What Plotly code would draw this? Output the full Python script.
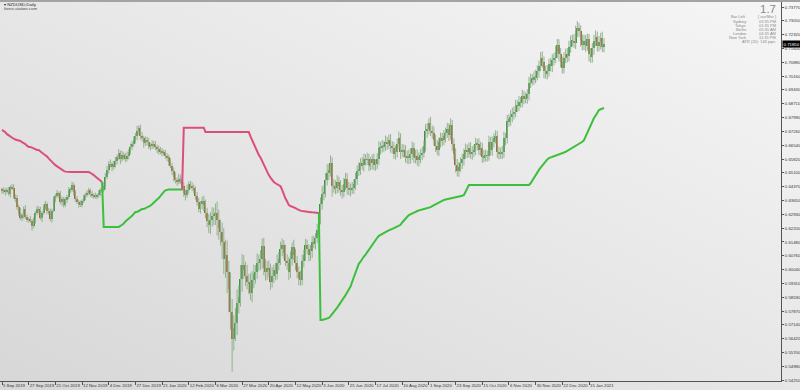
import base64
import plotly.graph_objects as go

# ---------------- data ----------------
open0 = 0.6420
closes = [
    0.6415, 0.6410, 0.6418, 0.6412, 0.6398, 0.6436, 0.6430, 0.6385, 0.6378, 0.6330, 0.6302, 0.6272, 0.6290, 0.6322, 0.6278, 0.6265, 0.6268,
    0.6258, 0.6232, 0.6262, 0.6300, 0.6322, 0.6312, 0.6272, 0.6302, 0.6330, 0.6345, 0.6312, 0.6300, 0.6268, 0.6312, 0.6372, 0.6388,
    0.6402, 0.6395, 0.6355, 0.6372, 0.6340, 0.6366, 0.6382, 0.6420, 0.6422, 0.6445, 0.6410, 0.6372, 0.6356, 0.6345, 0.6342, 0.6362,
    0.6382, 0.6395, 0.6402, 0.6418, 0.6400, 0.6390, 0.6388, 0.6385, 0.6392, 0.6405, 0.6418, 0.6422, 0.6440, 0.6490, 0.6525, 0.6555,
    0.6555, 0.6540, 0.6555, 0.6572, 0.6590, 0.6612, 0.6580, 0.6605, 0.6595, 0.6580, 0.6600, 0.6620, 0.6645, 0.6660, 0.6680, 0.6700, 0.6730, 0.6742,
    0.6702, 0.6690, 0.6665, 0.6682, 0.6670, 0.6652, 0.6648, 0.6662, 0.6655, 0.6645, 0.6635, 0.6620, 0.6625, 0.6615, 0.6612, 0.6600, 0.6590, 0.6565, 0.6548, 0.6520, 0.6490, 0.6470,
    0.6462, 0.6480, 0.6470, 0.6440, 0.6405, 0.6395, 0.6420, 0.6450, 0.6440, 0.6432, 0.6425, 0.6390, 0.6355, 0.6322, 0.6345, 0.6365, 0.6340, 0.6300, 0.6260, 0.6235,
    0.6265, 0.6285, 0.6292, 0.6300, 0.6262, 0.6220, 0.6200, 0.6150, 0.6060, 0.6080, 0.5990, 0.5900, 0.5780, 0.5640, 0.5700, 0.5722, 0.5830, 0.5860, 0.5952, 0.6030, 0.6000, 0.5968,
    0.5940, 0.5930, 0.5880, 0.5950, 0.5980, 0.5992, 0.6040, 0.6042, 0.6060, 0.6128, 0.6010, 0.5990, 0.6012, 0.6000, 0.5940, 0.5972, 0.6000, 0.5980, 0.6040, 0.6060, 0.6110, 0.6130,
    0.6090, 0.6050, 0.6040, 0.5990, 0.6060, 0.6120, 0.6080, 0.6040, 0.5990, 0.5960, 0.5950, 0.6050, 0.6080, 0.6130, 0.6110, 0.6080, 0.6100, 0.6150, 0.6140, 0.6170, 0.6210,
    0.6270, 0.6345, 0.6400, 0.6412, 0.6470, 0.6510, 0.6522, 0.6560, 0.6440, 0.6440, 0.6430, 0.6462, 0.6440, 0.6420, 0.6410, 0.6450, 0.6480, 0.6430, 0.6420, 0.6425, 0.6430, 0.6450,
    0.6480, 0.6520, 0.6530, 0.6560, 0.6550, 0.6580, 0.6578, 0.6582, 0.6550, 0.6560, 0.6580, 0.6552, 0.6555, 0.6580, 0.6640, 0.6642, 0.6650, 0.6650, 0.6670, 0.6662, 0.6680, 0.6650, 0.6640,
    0.6610, 0.6620, 0.6660, 0.6690, 0.6620, 0.6630, 0.6620, 0.6590, 0.6600, 0.6585, 0.6610, 0.6640, 0.6590, 0.6600, 0.6575, 0.6590, 0.6605, 0.6615, 0.6650, 0.6730, 0.6740,
    0.6770, 0.6730, 0.6720, 0.6680, 0.6650, 0.6630, 0.6670, 0.6690, 0.6680, 0.6700, 0.6720, 0.6740, 0.6710, 0.6760, 0.6660, 0.6610, 0.6550, 0.6520, 0.6540, 0.6560, 0.6580, 0.6610,
    0.6630, 0.6620, 0.6640, 0.6610, 0.6620, 0.6630, 0.6660, 0.6660, 0.6630, 0.6640, 0.6590, 0.6600, 0.6600, 0.6600, 0.6670, 0.6630, 0.6670, 0.6690, 0.6700, 0.6620, 0.6610, 0.6610,
    0.6620, 0.6690, 0.6690, 0.6780, 0.6790, 0.6800, 0.6820, 0.6830, 0.6860, 0.6860, 0.6880, 0.6880, 0.6910, 0.6900, 0.6900, 0.6920, 0.6980, 0.7000, 0.7000, 0.7010, 0.7020,
    0.7040, 0.7070, 0.7110, 0.7090, 0.7040, 0.7030, 0.7040, 0.7080, 0.7070, 0.7100, 0.7110, 0.7140, 0.7180, 0.7130, 0.7090, 0.7060, 0.7110, 0.7130, 0.7120, 0.7170, 0.7200, 0.7200,
    0.7190, 0.7250, 0.7265, 0.7250, 0.7205, 0.7180, 0.7200, 0.7175, 0.7210, 0.7130, 0.7115, 0.7160, 0.7200, 0.7220, 0.7175, 0.7195, 0.7215, 0.7170, 0.7185,
]

upper_wick_pips = [
    12, 18, 10, 15, 22, 9, 14, 20, 11, 16, 13, 25, 10, 12, 19, 14, 8, 17, 11, 15,
    10, 16, 12, 20, 9, 14, 18, 11, 13, 22, 10, 15, 12, 17, 9, 20, 14, 11, 16, 13,
    15, 11, 18, 13, 10, 16, 12, 20, 9, 14, 11, 17, 13, 10, 15, 12, 18, 9, 14, 11,
    14, 20, 18, 22, 16, 25, 12, 18, 20, 15, 22, 14, 19, 12, 17, 21, 13, 18, 16, 20,
    18, 25, 15, 20, 22, 14, 18, 16, 24, 13, 19, 15, 21, 12, 17, 20, 14, 16, 18, 13,
    15, 20, 14, 18, 22, 16, 25, 19, 14, 20, 17, 28, 15, 18, 21, 16, 14, 19, 23, 17,
    20, 25, 30, 28, 35, 40, 45, 35, 50, 60, 55, 45, 50, 70, 80, 75, 60, 90, 70, 65,
    80, 70, 60, 75, 55, 50, 45, 60, 40, 55, 45, 50, 35, 48, 40, 45, 38, 42, 50, 36,
    40, 35, 45, 30, 38, 42, 33, 40, 36, 28, 44, 35, 30, 38, 26, 40, 32, 35, 30, 37,
    32, 28, 35, 30, 26, 33, 29, 31, 25, 34, 30, 36, 40, 32, 38, 45, 35, 42, 30, 36,
    30, 35, 28, 32, 26, 34, 30, 27, 33, 29, 31, 25, 30, 28, 35, 26, 32, 30, 27, 33,
    28, 32, 26, 30, 25, 33, 35, 29, 31, 27, 34, 28, 30, 32, 26, 30, 33, 28, 35, 27,
    30, 28, 34, 26, 31, 29, 33, 27, 30, 32, 26, 29, 31, 28, 35, 30, 25, 33, 28, 31,
    29, 32, 26, 30, 28, 33, 27, 31, 29, 34, 26, 30, 28, 32, 27, 31, 29, 26, 33, 28,
    27, 31, 29, 26, 33, 28, 30, 32, 27, 29, 31, 26, 34, 28, 30, 27, 32, 29, 26, 31,
    30, 35, 28, 32, 26, 38, 30, 27, 33, 29, 31, 26, 34, 28, 30, 27, 32, 29, 26, 31,
    29, 32, 27, 31, 35, 28, 30, 33, 26, 31, 29, 27, 34, 30, 28, 32, 26, 31, 29, 33,
    30, 28, 32, 35, 30, 38, 29, 31, 27, 33, 30, 28, 26, 32, 29, 31, 35, 28, 30, 27, 33, 29,
]

lower_wick_pips = [
    15, 9, 20, 12, 8, 18, 11, 10, 22, 13, 17, 9, 14, 20, 10, 12, 16, 9, 25, 13,
    18, 12, 15, 9, 20, 11, 14, 17, 10, 12, 19, 8, 16, 11, 14, 10, 18, 12, 9, 15,
    10, 16, 12, 19, 14, 9, 17, 11, 13, 10, 15, 12, 9, 16, 11, 14, 10, 13, 12, 17,
    12, 15, 18, 14, 20, 16, 22, 13, 17, 19, 14, 25, 12, 18, 15, 11, 20, 14, 17, 13,
    16, 20, 22, 18, 15, 24, 14, 19, 17, 21, 13, 18, 16, 22, 15, 14, 19, 12, 17, 20,
    18, 14, 22, 25, 16, 20, 13, 18, 24, 21, 30, 15, 19, 14, 17, 22, 20, 16, 18, 25,
    25, 30, 28, 35, 40, 45, 38, 50, 55, 80, 60, 70, 90, 80, 100, 110, 120, 90, 171, 60,
    70, 60, 55, 50, 65, 45, 50, 40, 55, 35, 48, 42, 50, 38, 45, 40, 52, 36, 44, 40,
    35, 42, 30, 38, 33, 28, 40, 32, 36, 30, 27, 38, 42, 30, 35, 28, 40, 33, 38, 30,
    28, 35, 30, 27, 33, 29, 36, 25, 31, 28, 35, 30, 28, 34, 30, 26, 38, 32, 55, 34,
    32, 28, 34, 30, 36, 27, 31, 35, 28, 33, 26, 30, 29, 34, 27, 31, 25, 33, 30, 28,
    30, 27, 33, 28, 31, 26, 29, 34, 27, 30, 25, 32, 28, 35, 30, 27, 31, 29, 26, 38,
    28, 32, 27, 33, 30, 26, 34, 29, 31, 27, 33, 30, 28, 25, 29, 36, 30, 28, 32, 27,
    31, 27, 33, 29, 30, 26, 32, 28, 34, 27, 35, 30, 38, 29, 31, 26, 30, 33, 27, 32,
    30, 26, 32, 28, 27, 33, 29, 31, 28, 26, 30, 32, 27, 29, 31, 28, 26, 33, 30, 27,
    28, 32, 36, 27, 30, 34, 26, 31, 29, 33, 27, 30, 28, 32, 26, 29, 31, 27, 33, 30,
    31, 27, 33, 29, 30, 36, 28, 32, 27, 30, 34, 29, 26, 31, 38, 28, 32, 30, 27, 33,
    28, 32, 30, 27, 33, 29, 31, 35, 30, 28, 32, 27, 38, 30, 29, 33, 28, 31, 30, 40, 29, 30,
]

stop_line = (
    [0.6734, 0.6730, 0.6722, 0.6712, 0.6705, 0.6697, 0.6690, 0.6688, 0.6684, 0.6681,
     0.6681, 0.6676, 0.6670, 0.6666, 0.6660, 0.6652, 0.6645, 0.6645,
     0.6640, 0.6635, 0.6632, 0.6629, 0.6629,
     0.6624, 0.6615, 0.6608, 0.6603, 0.6595, 0.6585, 0.6574,
     0.6566, 0.6558, 0.6550, 0.6543, 0.6538, 0.6530, 0.6524,
     0.6520, 0.6516] + [0.6514] * 14 +
    [0.6510, 0.6505, 0.6498, 0.6490, 0.6482, 0.6475, 0.6468, 0.6462] +
    [0.6227] * 10 +
    [0.6232, 0.6237, 0.6245, 0.6255, 0.6262, 0.6268, 0.6273, 0.6285, 0.6295, 0.6305,
     0.6305, 0.6310, 0.6315, 0.6320, 0.6320, 0.6324, 0.6326, 0.6330,
     0.6338, 0.6345, 0.6355, 0.6362, 0.6370, 0.6378, 0.6390, 0.6400, 0.6410, 0.6418] +
    [0.6422] * 10 +
    [0.6745] * 13 + [0.6723] * 27 +
    [0.6700, 0.6680, 0.6660, 0.6640, 0.6620, 0.6603, 0.6590, 0.6570, 0.6551, 0.6530, 0.6515,
     0.6498, 0.6485, 0.6470, 0.6462, 0.6455, 0.6450, 0.6446, 0.6440,
     0.6420, 0.6394, 0.6375, 0.6360, 0.6341, 0.6336, 0.6333, 0.6331, 0.6325, 0.6320, 0.6315,
     0.6312, 0.6310, 0.6308, 0.6306, 0.6305, 0.6305, 0.6304, 0.6303, 0.6302, 0.6302, 0.6301, 0.6300] +
    [0.5740, 0.5740, 0.5742, 0.5745, 0.5748, 0.5751, 0.5760, 0.5770, 0.5782, 0.5790,
     0.5805, 0.5818, 0.5830, 0.5842, 0.5855, 0.5870, 0.5885, 0.5897, 0.5915,
     0.5940, 0.5965, 0.5990, 0.6015, 0.6035, 0.6045, 0.6060, 0.6072, 0.6082,
     0.6095, 0.6108, 0.6118, 0.6135, 0.6150, 0.6160, 0.6170, 0.6180, 0.6186,
     0.6190, 0.6195, 0.6200, 0.6205, 0.6208, 0.6211, 0.6215, 0.6220, 0.6225, 0.6230, 0.6235, 0.6238,
     0.6250, 0.6262, 0.6270, 0.6280, 0.6289, 0.6292, 0.6296, 0.6300, 0.6305, 0.6310, 0.6315, 0.6316,
     0.6318, 0.6320, 0.6322, 0.6324, 0.6326, 0.6330, 0.6335, 0.6340, 0.6345, 0.6350, 0.6352, 0.6358,
     0.6362, 0.6368, 0.6370, 0.6372, 0.6374, 0.6376, 0.6378,
     0.6378, 0.6380, 0.6382, 0.6385, 0.6388, 0.6390, 0.6394, 0.6410, 0.6430] +
    [0.6446] * 37 +
    [0.6455, 0.6470, 0.6483, 0.6497, 0.6512, 0.6525, 0.6537, 0.6549, 0.6561, 0.6570, 0.6580, 0.6587,
     0.6590, 0.6593, 0.6596, 0.6598, 0.6600, 0.6603, 0.6607, 0.6612, 0.6616, 0.6620, 0.6625, 0.6629,
     0.6634, 0.6640, 0.6645, 0.6650, 0.6655, 0.6660, 0.6666, 0.6672, 0.6681,
     0.6700, 0.6720, 0.6744, 0.6760, 0.6778, 0.6796, 0.6810, 0.6822,
     0.6838, 0.6842, 0.6846, 0.6849]
)
trend_switch_bars = [61, 109, 191]
first_trend = -1  # -1 = short (red stop above price), 1 = long (green stop below)

price_ticks = [0.73770, 0.73050, 0.72320, 0.71600, 0.70880, 0.70160, 0.69430, 0.68710,
               0.67990, 0.67260, 0.66540, 0.65820, 0.65100, 0.64370, 0.63650, 0.62930,
               0.62200, 0.61480, 0.60760, 0.60040, 0.59310, 0.58590, 0.57870, 0.57140,
               0.56420, 0.55700, 0.54980, 0.54250]
date_tick_bars = [0, 16, 32, 48, 64, 80, 96, 112, 128, 144, 160, 176, 192, 208,
                  224, 240, 256, 272, 288, 304, 320, 336, 352]
date_tick_labels = ["5 Sep 2019", "27 Sep 2019", "21 Oct 2019", "12 Nov 2019", "4 Dec 2019",
                    "27 Dec 2019", "21 Jan 2020", "12 Feb 2020", "6 Mar 2020", "27 Mar 2020",
                    "20 Apr 2020", "12 May 2020", "3 Jun 2020", "25 Jun 2020", "17 Jul 2020",
                    "10 Aug 2020", "1 Sep 2020", "23 Sep 2020", "15 Oct 2020", "6 Nov 2020",
                    "30 Nov 2020", "22 Dec 2020", "15 Jan 2021"]

symbol_title = "\u25be NZDUSD,Daily"
site_title = "forex-station.com"
spread_text = "1.7"
info_labels = ["Bar Left", "Sydney", "Tokyo", "Berlin", "London", "New York"]
info_values = ["[ var/Mar ]", "03:35 PM", "01:35 PM", "05:35 AM", "04:35 AM", "11:35 PM"]
atr_text = "ATR (20): 143 pips"

# ---------------- geometry / style ----------------
W, H = 800, 390
MR, MB = 19, 9
PW, PH = W - MR, H - MB
PX_PER_BAR = 1.6676
X0 = -2 / PX_PER_BAR
XRANGE = [X0, X0 + PW / PX_PER_BAR]
PRICE_TOP_PX, PRICE_TOP = 7, 0.7377
PRICE_PER_PX = 0.000523
YRANGE = [PRICE_TOP - (PH - PRICE_TOP_PX) * PRICE_PER_PX, PRICE_TOP + PRICE_TOP_PX * PRICE_PER_PX]
FONT = "Liberation Sans, Arial, sans-serif"
UP_BODY, DN_BODY, WICK = "#3a963a", "#a3602a", "#93b290"
RED, GREEN = "#dc4f78", "#3cbf3c"


def px(xp):
    return xp / PW


def py(yp):
    return 1 - yp / PH


n = len(closes)
idx = list(range(n))
opens = [open0] + closes[:-1]
highs = [max(o, c) + u * 0.0001 for o, c, u in zip(opens, closes, upper_wick_pips)]
lows = [min(o, c) - d * 0.0001 for o, c, d in zip(opens, closes, lower_wick_pips)]

fig = go.Figure()

# wicks
wx, wy = [], []
for i in idx:
    wx += [i, i, None]
    wy += [lows[i], highs[i], None]
fig.add_trace(go.Scatter(x=wx, y=wy, mode="lines", line=dict(color=WICK, width=1),
                         hoverinfo="skip", showlegend=False))

# bodies
base = [min(o, c) for o, c in zip(opens, closes)]
height = [max(abs(c - o), 0.00006) for o, c in zip(opens, closes)]
colors = [UP_BODY if c >= o else DN_BODY for o, c in zip(opens, closes)]
fig.add_trace(go.Bar(x=idx, y=height, base=base, width=0.75, marker=dict(color=colors, line=dict(width=0)),
                     hoverinfo="skip", showlegend=False))

# trailing stop, coloured per trend
bounds = [0] + trend_switch_bars + [n]
trend = first_trend
for k in range(len(bounds) - 1):
    s, e = bounds[k], bounds[k + 1]
    xs = list(range(s, e))
    ys = stop_line[s:e]
    if s > 0:
        xs = [s - 1] + xs
        ys = [stop_line[s - 1]] + ys
    fig.add_trace(go.Scatter(x=xs, y=ys, mode="lines",
                             line=dict(color=RED if trend < 0 else GREEN, width=2),
                             hoverinfo="skip", showlegend=False))
    trend = -trend

# background gradient
svg = ("<svg xmlns='http://www.w3.org/2000/svg' width='800' height='390'>"
       "<defs><linearGradient id='g' x1='1' y1='0' x2='0' y2='1'>"
       "<stop offset='0' stop-color='#f6f6f6'/><stop offset='1' stop-color='#d7d7d7'/>"
       "</linearGradient></defs><rect width='800' height='390' fill='url(#g)'/></svg>")
bg_src = "data:image/svg+xml;base64," + base64.b64encode(svg.encode()).decode()

annotations = [
    dict(text=symbol_title, x=px(2), y=py(4), xanchor="left", yanchor="middle",
         font=dict(size=4.3, color="#222", family=FONT)),
    dict(text=site_title, x=px(2), y=py(8), xanchor="left", yanchor="middle",
         font=dict(size=4.3, color="#445", family=FONT)),
    dict(text=spread_text, x=px(778), y=py(8.5), xanchor="right", yanchor="middle",
         font=dict(size=11.5, color="#8a8a8a", family=FONT)),
]
row_y = [17.0, 21.1, 25.2, 29.3, 33.4, 37.5]
for lab, val, yy in zip(info_labels, info_values, row_y):
    annotations.append(dict(text=lab, x=px(748), y=py(yy), xanchor="right", yanchor="middle",
                            font=dict(size=4, color="#8a8a8a", family=FONT)))
    annotations.append(dict(text=val, x=px(778), y=py(yy), xanchor="right", yanchor="middle",
                            font=dict(size=4, color="#8a8a8a", family=FONT)))
annotations.append(dict(text=atr_text, x=px(777), y=py(41.6), xanchor="right", yanchor="middle",
                        font=dict(size=4, color="#8a8a8a", family=FONT)))
annotations.append(dict(text=f"{closes[-1]:.5f}", xref="paper", yref="y", x=1 + 1 / PW, y=closes[-1],
                        xanchor="left", yanchor="middle", bgcolor="#000", borderpad=0.6,
                        font=dict(size=4.3, color="#fff", family=FONT)))
for a in annotations:
    a.setdefault("xref", "paper")
    a.setdefault("yref", "paper")
    a["showarrow"] = False

fig.update_layout(
    width=W, height=H,
    margin=dict(l=0, r=MR, t=0, b=MB, pad=0),
    paper_bgcolor="#e6e6e6", plot_bgcolor="rgba(0,0,0,0)",
    barmode="overlay", bargap=0, showlegend=False, hovermode=False,
    font=dict(family=FONT, size=4.3, color="#333"),
    images=[dict(source=bg_src, xref="paper", yref="paper", x=0, y=1, sizex=W / PW, sizey=H / PH,
                 xanchor="left", yanchor="top", sizing="stretch", layer="below")],
    shapes=[dict(type="rect", xref="paper", yref="paper", x0=0, x1=W / PW, y0=1 - 2 / PH, y1=1,
                 fillcolor="#a3a3a3", line=dict(width=0), layer="above")],
    annotations=annotations,
    xaxis=dict(range=XRANGE, tickvals=date_tick_bars, ticktext=date_tick_labels,
               ticks="outside", ticklen=3, tickcolor="#555", tickwidth=1, tickangle=0,
               ticklabelposition="outside right", showgrid=False, zeroline=False,
               showline=True, linecolor="#555", linewidth=1,
               tickfont=dict(size=4.3, color="#333", family=FONT)),
    yaxis=dict(range=YRANGE, side="right", tickvals=price_ticks,
               ticktext=[f"{v:.5f}" for v in price_ticks],
               ticks="outside", ticklen=2, tickcolor="#555", tickwidth=1,
               showgrid=False, zeroline=False, showline=True, linecolor="#555", linewidth=1,
               tickfont=dict(size=4.3, color="#333", family=FONT)),
)

fig.write_html("out.html")
